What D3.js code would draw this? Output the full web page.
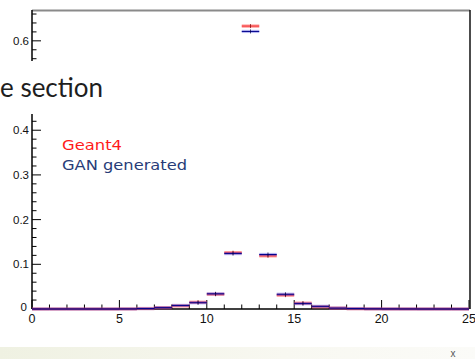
<!DOCTYPE html>
<html>
<head>
<meta charset="utf-8">
<script src="https://cdn.jsdelivr.net/npm/d3@7"></script>
<style>
  html, body { margin: 0; padding: 0; background: #fff; overflow: hidden; }
  svg { display: block; }
</style>
</head>
<body>
<svg id="chart" width="475" height="359"></svg>
<script>
// Bin edges: 25 unit-wide bins from 0 to 25
const binStarts = d3.range(0, 25);
// Normalised bin contents, Geant4 reference
const geant4 = [0, 0, 0, 0, 0, 0.0002, 0.001, 0.003, 0.007, 0.015, 0.033, 0.126, 0.633, 0.119, 0.031, 0.013, 0.005, 0.002, 0.0007, 0.0003, 0.0001, 0.0001, 0, 0, 0];
// Normalised bin contents, GAN generated sample
const ganGen = [0, 0, 0, 0, 0, 0.0002, 0.001, 0.003, 0.008, 0.014, 0.034, 0.124, 0.621, 0.122, 0.033, 0.012, 0.006, 0.002, 0.001, 0.0004, 0.0002, 0.0001, 0, 0, 0];
const xTicks = [0, 5, 10, 15, 20, 25];
const yTicks = [0, 0.1, 0.2, 0.3, 0.4, 0.6];
const legendLabels = ["Geant4", "GAN generated"];

const svg = d3.select("#chart");
const x = d3.scaleLinear().domain([0, 25]).range([32, 469]);
const y = d3.scaleLinear().domain([0, 0.669]).range([309, 10]);

// slide strip along the bottom
const grad = svg.append("defs").append("linearGradient").attr("id", "strip");
grad.append("stop").attr("offset", "0%").attr("stop-color", "#eff1e2");
grad.append("stop").attr("offset", "60%").attr("stop-color", "#f8f8f1");
grad.append("stop").attr("offset", "100%").attr("stop-color", "#fbfbf8");
svg.append("rect").attr("x", 0).attr("y", 347).attr("width", 475).attr("height", 12).attr("fill", "url(#strip)");

// frame: top and right
svg.append("line").attr("x1", x(0)).attr("x2", 470).attr("y1", 10.5).attr("y2", 10.5)
  .attr("stroke", "#8a8a8a").attr("stroke-width", 2);
svg.append("line").attr("x1", 470).attr("x2", 470).attr("y1", 10).attr("y2", y(0))
  .attr("stroke", "#111").attr("stroke-width", 1.5);

// x axis with inside ticks
const xMinor = d3.range(0, 26);
const gx = svg.append("g");
gx.append("line").attr("x1", x(0)).attr("x2", x(25)).attr("y1", y(0)).attr("y2", y(0))
  .attr("stroke", "#000").attr("stroke-width", 1.5);
gx.selectAll("line.tick").data(xMinor).join("line").attr("class", "tick")
  .attr("x1", d => x(d)).attr("x2", d => x(d))
  .attr("y1", y(0)).attr("y2", d => y(0) - (d % 5 === 0 ? 9 : 4.5))
  .attr("stroke", "#000").attr("stroke-width", 1);
gx.selectAll("text").data(xTicks).join("text")
  .attr("x", d => x(d)).attr("y", 323).attr("text-anchor", "middle")
  .attr("font-family", "Liberation Sans, Arial, sans-serif").attr("font-size", 12.5).attr("fill", "#111")
  .text(d => d);

// y axis with inside ticks
const yMinor = d3.range(0, 34).map(i => i * 0.02);
const gy = svg.append("g");
gy.append("line").attr("x1", x(0)).attr("x2", x(0)).attr("y1", 10).attr("y2", y(0))
  .attr("stroke", "#000").attr("stroke-width", 1.5);
gy.selectAll("line.tick").data(yMinor).join("line").attr("class", "tick")
  .attr("x1", x(0)).attr("x2", (d, i) => x(0) + (i % 5 === 0 ? 9 : 4.5))
  .attr("y1", d => y(d)).attr("y2", d => y(d))
  .attr("stroke", "#000").attr("stroke-width", 1);
gy.selectAll("text").data(yTicks).join("text")
  .attr("x", d => d === 0 ? 27 : 29).attr("y", d => y(d) + (d === 0 ? 2 : 4))
  .attr("text-anchor", "end")
  .attr("font-family", "Liberation Sans, Arial, sans-serif").attr("font-size", 11.5).attr("fill", "#111")
  .text(d => d === 0 ? "0" : d3.format(".1f")(d));

// histogram bars drawn as horizontal bin segments with small error markers
function drawHist(values, halo, core, marker) {
  const g = svg.append("g");
  g.selectAll("line.halo").data(values).join("line").attr("class", "halo")
    .attr("x1", (d, i) => x(binStarts[i])).attr("x2", (d, i) => x(binStarts[i] + 1))
    .attr("y1", d => y(d)).attr("y2", d => y(d))
    .attr("stroke", halo).attr("stroke-width", 3.2);
  g.selectAll("line.core").data(values).join("line").attr("class", "core")
    .attr("x1", (d, i) => x(binStarts[i])).attr("x2", (d, i) => x(binStarts[i] + 1))
    .attr("y1", d => y(d)).attr("y2", d => y(d))
    .attr("stroke", core).attr("stroke-width", 1);
  g.selectAll("line.err").data(values.map((v, i) => [v, i]).filter(p => p[0] > 0.01)).join("line").attr("class", "err")
    .attr("x1", p => x(binStarts[p[1]] + 0.5)).attr("x2", p => x(binStarts[p[1]] + 0.5))
    .attr("y1", p => y(p[0]) - 2).attr("y2", p => y(p[0]) + 2)
    .attr("stroke", marker).attr("stroke-width", 1).attr("stroke-opacity", 0.7);
}
drawHist(geant4, "rgba(255,40,40,0.5)", "rgba(235,0,0,0.65)", "#700");
drawHist(ganGen, "rgba(80,80,225,0.4)", "#00008c", "#000040");

// legend
svg.append("text").attr("x", 62).attr("y", 150)
  .attr("font-family", "'DejaVu Sans', sans-serif").attr("font-size", 14.5).attr("fill", "#ff1a1a")
  .attr("textLength", 60).attr("lengthAdjust", "spacingAndGlyphs")
  .text(legendLabels[0]);
svg.append("text").attr("x", 62).attr("y", 170)
  .attr("font-family", "'DejaVu Sans', sans-serif").attr("font-size", 14.5).attr("fill", "#283c78")
  .attr("textLength", 125).attr("lengthAdjust", "spacingAndGlyphs")
  .text(legendLabels[1]);

// overlapping heading box on the left
svg.append("rect").attr("x", 0).attr("y", 61).attr("width", 110).attr("height", 53).attr("fill", "#fff");
svg.append("text").attr("x", 0).attr("y", 97)
  .attr("font-family", "Lato, 'Open Sans', sans-serif").attr("font-size", 26).attr("fill", "#1e1e1e")
  .text("e section");

// axis title
svg.append("text").attr("x", 453).attr("y", 357).attr("text-anchor", "middle")
  .attr("font-family", "Liberation Sans, Arial, sans-serif").attr("font-size", 10).attr("fill", "#555")
  .text("x");
</script>
</body>
</html>
